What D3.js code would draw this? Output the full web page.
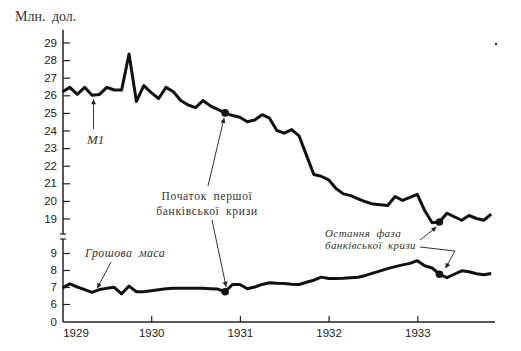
<!DOCTYPE html>
<html>
<head>
<meta charset="utf-8">
<script src="https://cdn.jsdelivr.net/npm/d3@7"></script>
<style>
  body { margin: 0; background: #fff; }
  svg { display: block; }
  .tick text { font-family: "Liberation Sans", Arial, sans-serif; font-size: 11.5px; fill: #222; }
  .tick line { stroke: #222; stroke-width: 1.2; }
  .note { font-family: "Liberation Serif", "Times New Roman", serif; fill: #333; word-spacing: 3px; }
</style>
</head>
<body>
<div id="chart"></div>
<script>
// Monthly values, Jan 1929 - Nov 1933
const startYear = 1929;
const m1Values = [26.2, 26.45, 26.05, 26.45, 26.0, 26.05, 26.45, 26.3, 26.3, 28.35,
  25.65, 26.55, 26.15, 25.82, 26.45, 26.2, 25.7, 25.45, 25.3, 25.7,
  25.4, 25.2, 25.0, 24.85, 24.75, 24.5, 24.6, 24.9, 24.7, 24.0,
  23.85, 24.05, 23.7, 22.6, 21.5, 21.4, 21.2, 20.7, 20.4, 20.3,
  20.12, 19.95, 19.82, 19.78, 19.74, 20.25, 20.03, 20.2, 20.37, 19.45,
  18.76, 18.8, 19.3, 19.1, 18.9, 19.17, 19.0, 18.9, 19.25];
const moneyValues = [6.95, 7.18, 7.0, 6.85, 6.68, 6.85, 6.92, 6.98, 6.6, 7.05,
  6.72, 6.72, 6.78, 6.84, 6.9, 6.92, 6.92, 6.92, 6.92, 6.92,
  6.9, 6.88, 6.72, 7.15, 7.15, 6.9, 7.0, 7.15, 7.25, 7.22,
  7.2, 7.16, 7.15, 7.28, 7.4, 7.58, 7.5, 7.5, 7.52, 7.55,
  7.57, 7.68, 7.82, 7.95, 8.08, 8.2, 8.3, 8.39, 8.55, 8.25,
  8.12, 7.75, 7.55, 7.75, 7.95, 7.9, 7.78, 7.72, 7.8];
const crisisMonths = [22, 51]; // Nov 1930, Apr 1933
const yearTicks = [1929, 1930, 1931, 1932, 1933];
const upperTicks = [19, 20, 21, 22, 23, 24, 25, 26, 27, 28, 29];
const lowerTicks = [0, 6, 7, 8, 9];

const width = 521, height = 351;
const axisX = 63, axisY = 322;

const svg = d3.select('#chart').append('svg')
  .attr('width', width)
  .attr('height', height);

const defs = svg.append('defs');
defs.append('marker')
  .attr('id', 'head')
  .attr('viewBox', '0 0 10 10')
  .attr('refX', 10).attr('refY', 5)
  .attr('markerWidth', 7).attr('markerHeight', 5)
  .attr('markerUnits', 'userSpaceOnUse')
  .attr('orient', 'auto')
  .append('path').attr('d', 'M0,0 L10,5 L0,10 Z').attr('fill', '#222');

// Scales
const x = d3.scaleLinear().domain([1929, 1934]).range([62.5, 506]);
const yTop = d3.scaleLinear().domain([19, 29]).range([218.5, 42.5]);
const yBot = d3.scaleLinear().domain([0, 6, 9]).range([axisY, 304, 253]);

const monthX = i => x(startYear + i / 12);

// Axes
const upperAxis = d3.axisLeft(yTop).tickValues(upperTicks).tickSize(-7).tickPadding(6).tickFormat(d3.format('d'));
const lowerAxis = d3.axisLeft(yBot).tickValues(lowerTicks).tickSize(-7).tickPadding(6).tickFormat(d3.format('d'));

const gUp = svg.append('g').attr('transform', `translate(${axisX},0)`).call(upperAxis);
gUp.select('.domain').remove();
const gLo = svg.append('g').attr('transform', `translate(${axisX},0)`).call(lowerAxis);
gLo.select('.domain').remove();
gLo.selectAll('.tick').filter(d => d === 0).select('line').remove();

const xAxis = d3.axisBottom(x).tickValues(yearTicks).tickSize(-6).tickPadding(7).tickFormat(d3.format('d'));
const gX = svg.append('g').attr('transform', `translate(0,${axisY})`).call(xAxis);
gX.select('.domain').remove();
gX.selectAll('.tick').filter(d => d === 1929).select('line').remove();
gX.selectAll('.tick').filter(d => d === 1929).select('text').attr('x', 13);

// Axis lines with a break
svg.append('line').attr('x1', axisX).attr('x2', axisX)
  .attr('y1', yTop(29.72)).attr('y2', 234)
  .attr('stroke', '#222').attr('stroke-width', 1.5);
svg.append('line').attr('x1', axisX).attr('x2', axisX)
  .attr('y1', 239).attr('y2', axisY)
  .attr('stroke', '#222').attr('stroke-width', 1.5);
[234, 239].forEach(yy => {
  svg.append('line').attr('x1', axisX - 3).attr('x2', axisX + 3)
    .attr('y1', yy).attr('y2', yy).attr('stroke', '#222').attr('stroke-width', 1.2);
});
svg.append('line').attr('x1', axisX).attr('x2', 495)
  .attr('y1', axisY).attr('y2', axisY)
  .attr('stroke', '#222').attr('stroke-width', 1.3);

// Lines
const lineTop = d3.line().x((d, i) => monthX(i)).y(d => yTop(d));
const lineBot = d3.line().x((d, i) => monthX(i)).y(d => yBot(d));

svg.append('path').datum(m1Values)
  .attr('d', lineTop).attr('fill', 'none')
  .attr('stroke', '#111').attr('stroke-width', 3).attr('stroke-linejoin', 'round');
svg.append('path').datum(moneyValues)
  .attr('d', lineBot).attr('fill', 'none')
  .attr('stroke', '#111').attr('stroke-width', 3).attr('stroke-linejoin', 'round');

// Crisis dots
svg.selectAll('.dotTop').data(crisisMonths).enter().append('circle')
  .attr('cx', i => monthX(i)).attr('cy', i => yTop(m1Values[i]))
  .attr('r', 3.8).attr('fill', '#111');
svg.selectAll('.dotBot').data(crisisMonths).enter().append('circle')
  .attr('cx', i => monthX(i)).attr('cy', i => yBot(moneyValues[i]))
  .attr('r', 3.8).attr('fill', '#111');

// Labels
svg.append('text').attr('class', 'note')
  .attr('x', 15).attr('y', 21)
  .style('font-size', '14px').text('Млн. дол.');

function arrow(points) {
  svg.append('path')
    .attr('d', d3.line()(points))
    .attr('fill', 'none').attr('stroke', '#333').attr('stroke-width', 1)
    .attr('marker-end', 'url(#head)');
}

// M1
svg.append('text').attr('class', 'note')
  .attr('x', 87).attr('y', 144)
  .style('font-size', '13px').style('font-style', 'italic').text('M1');
arrow([[monthX(4.2), 129], [monthX(4.2), yTop(26.0) + 4]]);

// Money stock
svg.append('text').attr('class', 'note')
  .attr('x', 85).attr('y', 257)
  .style('font-size', '12px').style('font-style', 'italic')
  .style('letter-spacing', '0.4px').text('Грошова маса');
arrow([[111, 262], [monthX(4.7), yBot(6.75) - 3]]);

// First banking crisis
const c1 = crisisMonths[0];
svg.append('text').attr('class', 'note')
  .attr('x', 207).attr('y', 200).attr('text-anchor', 'middle')
  .style('font-size', '11.5px').style('letter-spacing', '0.7px').text('Початок першої');
svg.append('text').attr('class', 'note')
  .attr('x', 207).attr('y', 215).attr('text-anchor', 'middle')
  .style('font-size', '11.5px').style('letter-spacing', '0.7px').text('банківської кризи');
arrow([[208, 186], [monthX(c1) - 1, yTop(m1Values[c1]) + 5]]);
arrow([[212, 220], [monthX(c1) + 1, yBot(moneyValues[c1]) - 5]]);

// Last phase of banking crisis
const c2 = crisisMonths[1];
svg.append('text').attr('class', 'note')
  .attr('x', 325).attr('y', 237)
  .style('font-size', '11px').style('font-style', 'italic')
  .style('letter-spacing', '0.4px').text('Остання фаза');
svg.append('text').attr('class', 'note')
  .attr('x', 325).attr('y', 249)
  .style('font-size', '11px').style('font-style', 'italic')
  .style('letter-spacing', '0.4px').text('банківської кризи');
arrow([[420, 240], [monthX(c2) - 3, yTop(m1Values[c2]) + 5]]);
arrow([[420, 247], [455, 251], [monthX(c2) + 6, yBot(moneyValues[c2]) - 6]]);

// speck from the scan
svg.append('circle').attr('cx', 496).attr('cy', 44).attr('r', 1.3).attr('fill', '#333');
</script>
</body>
</html>
